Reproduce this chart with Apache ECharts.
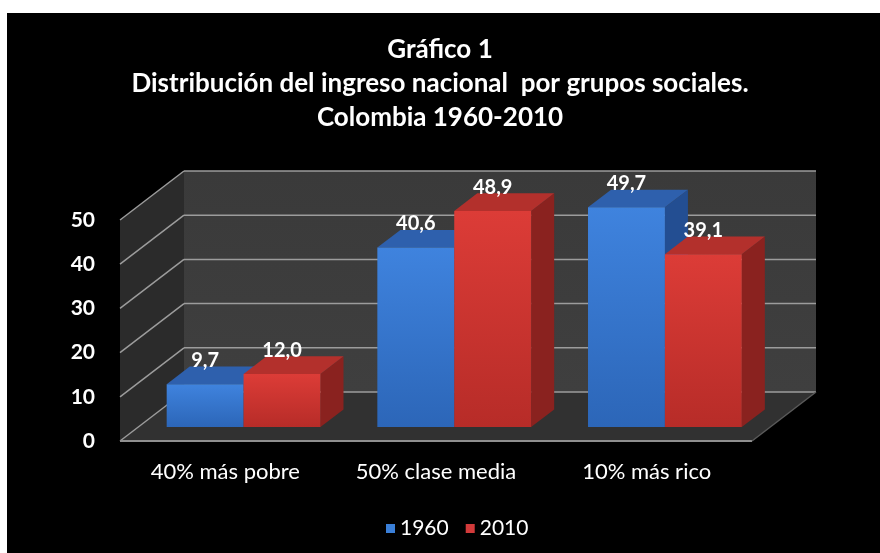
<!DOCTYPE html>
<html>
<head>
<meta charset="utf-8">
<script src="https://cdn.jsdelivr.net/npm/echarts@6/dist/echarts.min.js"></script>
<style>
html,body{margin:0;padding:0;background:#fff;}
#chart{width:880px;height:553px;}
</style>
</head>
<body>
<div id="chart"></div>
<script>
// ---- data ----
const categories = ['40% más pobre', '50% clase media', '10% más rico'];
const seriesNames = ['1960', '2010'];
const values1960 = [9.7, 40.6, 49.7];
const values2010 = [12.0, 48.9, 39.1];
const yTicks = [0, 10, 20, 30, 40, 50];
const titleLines = ['Gráfico 1', 'Distribución del ingreso nacional  por grupos sociales.', 'Colombia 1960-2010'];

// ---- style constants ----
const FONT = 'Lato, "Open Sans", sans-serif';
const DX = 64, DY = -49;           // depth of the 3D box
const F0 = 0.285, F1 = 0.645;      // bar depth slice
const BAR_FRAC = 0.365;
const Y_MAX = 50;
const faceColors = [
  {front: ['#3f83de', '#2c66b8'], top: '#2e60ad', side: '#234e92', legend: '#3a7fd8'},
  {front: ['#dc3c37', '#b72c28'], top: '#b3302c', side: '#8a221f', legend: '#d23a3a'}
];

function fmt(v) { return v.toFixed(1).replace('.', ','); }

function makeBarRenderer(si) {
  return function (params, api) {
    const cat = api.value(0), val = api.value(1);
    const base = api.coord([cat, 0]);
    const topP = api.coord([cat, val]);
    const band = api.size([1, 0])[0];
    const bw = band * BAR_FRAC;
    const cx = base[0];
    const x0 = (si === 0 ? cx - bw : cx) + DX * F0;
    const x1 = x0 + bw;
    const yb = base[1] + DY * F0;
    const yt = topP[1] + DY * F0;
    const ddx = DX * (F1 - F0), ddy = DY * (F1 - F0);
    const c = faceColors[si];
    return {
      type: 'group',
      children: [
        {type: 'polygon', shape: {points: [[x1, yt], [x1 + ddx, yt + ddy], [x1 + ddx, yb + ddy], [x1, yb]]},
         style: {fill: c.side}},
        {type: 'polygon', shape: {points: [[x0, yt], [x1, yt], [x1 + ddx, yt + ddy], [x0 + ddx, yt + ddy]]},
         style: {fill: c.top}},
        {type: 'rect', shape: {x: x0, y: yt, width: bw, height: yb - yt},
         style: {fill: {type: 'linear', x: 0, y: 0, x2: 0, y2: 1,
           colorStops: [{offset: 0, color: c.front[0]}, {offset: 1, color: c.front[1]}]}}},
        {type: 'text', style: {text: fmt(val), x: x0 + bw / 2, y: yt + ddy + 4,
          align: 'center', verticalAlign: 'bottom', fill: '#fff',
          font: 'bold 20px ' + FONT}}
      ]
    };
  };
}

function renderWalls(params, api) {
  const cs = params.coordSys;
  const xL = cs.x, xR = cs.x + cs.width;
  const y0 = api.coord([0, 0])[1];
  const yT = api.coord([0, Y_MAX])[1];
  const children = [
    {type: 'polygon', shape: {points: [[xL + DX, yT + DY], [xR + DX, yT + DY], [xR + DX, y0 + DY], [xL + DX, y0 + DY]]},
     style: {fill: {type: 'linear', x: 0, y: 0, x2: 0, y2: 1, colorStops: [{offset: 0, color: '#3a3a3a'}, {offset: 1, color: '#3f3f3f'}]}}},
    {type: 'polygon', shape: {points: [[xL, yT], [xL + DX, yT + DY], [xL + DX, y0 + DY], [xL, y0]]},
     style: {fill: '#2b2b2b'}},
    {type: 'polygon', shape: {points: [[xL, y0], [xR, y0], [xR + DX, y0 + DY], [xL + DX, y0 + DY]]},
     style: {fill: '#313131'}}
  ];
  yTicks.forEach(function (v) {
    const y = api.coord([0, v])[1];
    children.push({type: 'line', shape: {x1: xL, y1: y, x2: xL + DX, y2: y + DY},
      style: {stroke: '#9c9c9c', lineWidth: 1.5}});
    children.push({type: 'line', shape: {x1: xL + DX, y1: y + DY, x2: xR + DX, y2: y + DY},
      style: {stroke: '#9c9c9c', lineWidth: 1.5}});
  });
  children.push({type: 'line', shape: {x1: xL, y1: y0, x2: xR, y2: y0}, style: {stroke: '#8f8f8f', lineWidth: 2}});
  children.push({type: 'line', shape: {x1: xR, y1: y0, x2: xR + DX, y2: y0 + DY}, style: {stroke: '#5a5a5a', lineWidth: 1.5}});
  return {type: 'group', children: children};
}

const chart = echarts.init(document.getElementById('chart'), null, {renderer: 'canvas'});
chart.setOption({
  backgroundColor: '#000',
  animation: false,
  graphic: [
    {type: 'rect', left: 0, top: 0, shape: {width: 880, height: 13}, style: {fill: '#fff'}, z: 100},
    {type: 'rect', left: 0, top: 0, shape: {width: 7, height: 553}, style: {fill: '#fff'}, z: 100}
  ],
  title: {
    text: titleLines.join('\n'),
    left: 'center',
    top: 28,
    textStyle: {color: '#fff', fontFamily: FONT, fontWeight: 'bold', fontSize: 26, lineHeight: 34}
  },
  legend: {
    data: seriesNames,
    left: 381,
    top: 513,
    icon: 'rect',
    itemWidth: 9,
    itemHeight: 9,
    itemGap: 17,
    textStyle: {color: '#fff', fontFamily: FONT, fontSize: 21}
  },
  grid: {left: 120, right: 128, top: 220, bottom: 112, containLabel: false},
  xAxis: {
    type: 'category',
    data: categories,
    axisLine: {show: false},
    axisTick: {show: false},
    axisLabel: {color: '#fff', fontFamily: FONT, fontSize: 22, margin: 20},
    splitLine: {show: false}
  },
  yAxis: {
    type: 'value',
    min: 0, max: Y_MAX, interval: 10,
    axisLine: {show: false},
    axisTick: {show: false},
    splitLine: {show: false},
    axisLabel: {color: '#fff', fontFamily: FONT, fontSize: 21, fontWeight: 'bold', margin: 25}
  },
  series: [
    {type: 'custom', name: 'walls', renderItem: renderWalls, data: [[0, 0]], z: 1, silent: true},
    {type: 'custom', name: seriesNames[0], renderItem: makeBarRenderer(0), z: 2,
     itemStyle: {color: faceColors[0].legend},
     data: values1960.map(function (v, i) { return [i, v]; })},
    {type: 'custom', name: seriesNames[1], renderItem: makeBarRenderer(1), z: 3,
     itemStyle: {color: faceColors[1].legend},
     data: values2010.map(function (v, i) { return [i, v]; })}
  ]
});
</script>
</body>
</html>
